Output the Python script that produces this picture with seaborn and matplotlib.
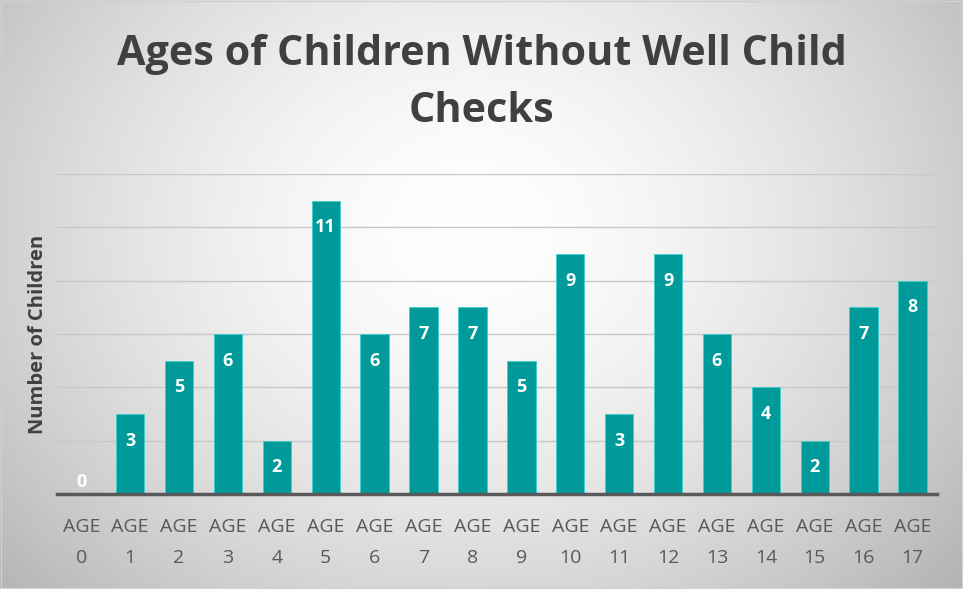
import numpy as np
import pandas as pd
import matplotlib
matplotlib.use("Agg")
import matplotlib.pyplot as plt
import seaborn as sns

categories = ["AGE\n0", "AGE\n1", "AGE\n2", "AGE\n3", "AGE\n4", "AGE\n5", "AGE\n6", "AGE\n7", "AGE\n8",
              "AGE\n9", "AGE\n10", "AGE\n11", "AGE\n12", "AGE\n13", "AGE\n14", "AGE\n15", "AGE\n16", "AGE\n17"]
counts = [0, 3, 5, 6, 2, 11, 6, 7, 7, 5, 9, 3, 9, 6, 4, 2, 7, 8]

df = pd.DataFrame({"age": categories, "count": counts})

sns.set_theme(style="white")
plt.rcParams['font.family'] = ['Open Sans', 'DejaVu Sans']

fig = plt.figure(figsize=(9.63, 5.89), dpi=100)

# radial gradient background
bg = fig.add_axes([0, 0, 1, 1], zorder=0)
h, w = 589, 963
yy, xx = np.mgrid[0:h, 0:w]
cx, cy = 470, 230
r = np.sqrt(((xx - cx) / 620.0) ** 2 + ((yy - cy) / 520.0) ** 2)
val = 1.0 - 0.28 * np.clip(r, 0, 1.2) ** 1.6
img = np.dstack([val, val, val])
bg.imshow(img, aspect='auto', extent=[0, 1, 0, 1], interpolation='bilinear')
bg.set_axis_off()
bg.add_patch(plt.Rectangle((0.001, 0.001), 0.998, 0.997, fill=False, edgecolor='#d0d0d0', lw=1,
                           transform=bg.transAxes))

ax = fig.add_axes([0.059, 0.161, 0.914, 0.5436], zorder=1)
ax.patch.set_alpha(0)

sns.barplot(data=df, x="age", y="count", color="#009a9a", width=0.58, ax=ax,
            edgecolor="#40d0d0", linewidth=0.6, saturation=1, zorder=3)

ax.set_ylim(0, 12)
ax.set_xlim(-0.5, len(categories) - 0.5)
ax.set_yticks([2, 4, 6, 8, 10, 12])
ax.yaxis.grid(True, color='#c8c8c8', lw=1, zorder=0)
ax.set_axisbelow(True)
ax.tick_params(axis='y', left=False, labelleft=False)
ax.set_xticks(range(len(categories)))
ax.set_xticklabels(categories, linespacing=1.95)
ax.tick_params(axis='x', bottom=False, labelsize=14, labelcolor='#595959', pad=11)
for s in ['top', 'right', 'left']:
    ax.spines[s].set_visible(False)
ax.spines['bottom'].set_color('#595959')
ax.spines['bottom'].set_linewidth(2.5)
ax.spines['bottom'].set_zorder(5)

ax.set_xlabel("")
ax.set_ylabel("Number of Children", fontsize=14.5, fontweight='bold', color='#404040', labelpad=6)

for i, v in enumerate(counts):
    y = v - 1.0 if v > 0 else 0.45
    ax.text(i, y, str(v), ha='center', va='center', color='white', fontsize=13,
            fontweight='bold', zorder=6)

fig.text(0.5, 0.908, "Ages of Children Without Well Child", ha='center', va='center',
         fontsize=29.8, fontweight='bold', color='#404040')
fig.text(0.5, 0.810, "Checks", ha='center', va='center',
         fontsize=29.8, fontweight='bold', color='#404040')

fig.savefig("out.png", dpi=100)
